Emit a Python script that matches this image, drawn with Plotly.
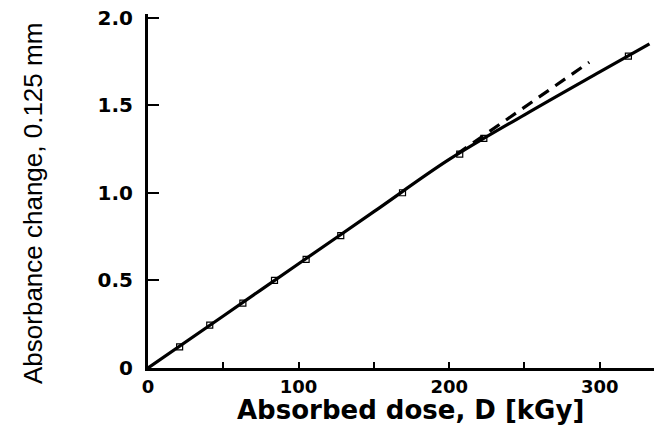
import plotly.graph_objects as go

# Measured points (open squares)
dose_pts = [21, 41, 63, 84, 105, 128, 169, 207, 223, 319]
abs_pts = [0.12, 0.245, 0.37, 0.50, 0.62, 0.755, 1.0, 1.22, 1.31, 1.78]

# Solid fitted curve
dose_fit = [0, 50, 100, 150, 200, 250, 300, 333]
abs_fit = [0, 0.297, 0.595, 0.892, 1.19, 1.445, 1.69, 1.85]

# Dashed linear extrapolation
dose_lin = [205, 293]
abs_lin = [1.22, 1.745]

x_ticks = [0, 50, 100, 150, 200, 250, 300]
x_ticklabels = ["0", "", "100", "", "200", "", "300"]
y_ticks = [0, 0.5, 1.0, 1.5, 2.0]
y_ticklabels = ["0", "0.5", "1.0", "1.5", "2.0"]

W, H = 654, 426
ML, MR, MT, MB = 148, 0, 14, 58
pw = W - ML - MR
ph = H - MT - MB

fig = go.Figure()
fig.add_trace(go.Scatter(x=dose_fit, y=abs_fit, mode="lines",
                         line=dict(color="black", width=3.2, shape="spline"),
                         showlegend=False, hoverinfo="skip"))
fig.add_trace(go.Scatter(x=dose_lin, y=abs_lin, mode="lines",
                         line=dict(color="black", width=3.2, dash="12px,8px"),
                         showlegend=False, hoverinfo="skip"))
fig.add_trace(go.Scatter(x=dose_pts, y=abs_pts, mode="markers",
                         marker=dict(symbol="square-open", size=6, color="black",
                                     line=dict(width=1.2, color="black")),
                         showlegend=False))

tickfont_x = dict(family="DejaVu Sans", size=18, color="black", weight="bold")
tickfont_y = dict(family="DejaVu Sans", size=20, color="black", weight="bold")

fig.update_layout(
    width=W, height=H,
    margin=dict(l=ML, r=MR, t=MT, b=MB),
    paper_bgcolor="white", plot_bgcolor="white",
    xaxis=dict(range=[0, 336], showgrid=False, zeroline=False,
               showline=True, linecolor="black", linewidth=3,
               tickmode="array", tickvals=x_ticks, ticktext=x_ticklabels,
               ticks="inside", ticklen=6, tickwidth=2, tickcolor="black",
               tickfont=tickfont_x, ticklabelstandoff=0),
    yaxis=dict(range=[0, 2.02], showgrid=False, zeroline=False,
               showline=True, linecolor="black", linewidth=3,
               tickmode="array", tickvals=y_ticks, ticktext=y_ticklabels,
               ticks="inside", ticklen=11, tickwidth=2, tickcolor="black",
               tickfont=tickfont_y, ticklabelstandoff=8),
)

fig.add_annotation(text="Absorbed dose, D [kGy]", xref="paper", yref="paper",
                   x=(410 - ML) / pw, y=-(410 - (H - MB)) / ph,
                   xanchor="center", yanchor="middle", showarrow=False,
                   font=dict(family="DejaVu Sans", size=26, color="black", weight="bold"))
fig.add_annotation(text="Absorbance change, 0.125 mm", xref="paper", yref="paper",
                   x=-(ML - 33) / pw, y=((H - MB) - 204) / ph,
                   xanchor="center", yanchor="middle", showarrow=False, textangle=-90,
                   font=dict(family="Liberation Sans", size=26, color="black"))

fig.write_html("out.html")
